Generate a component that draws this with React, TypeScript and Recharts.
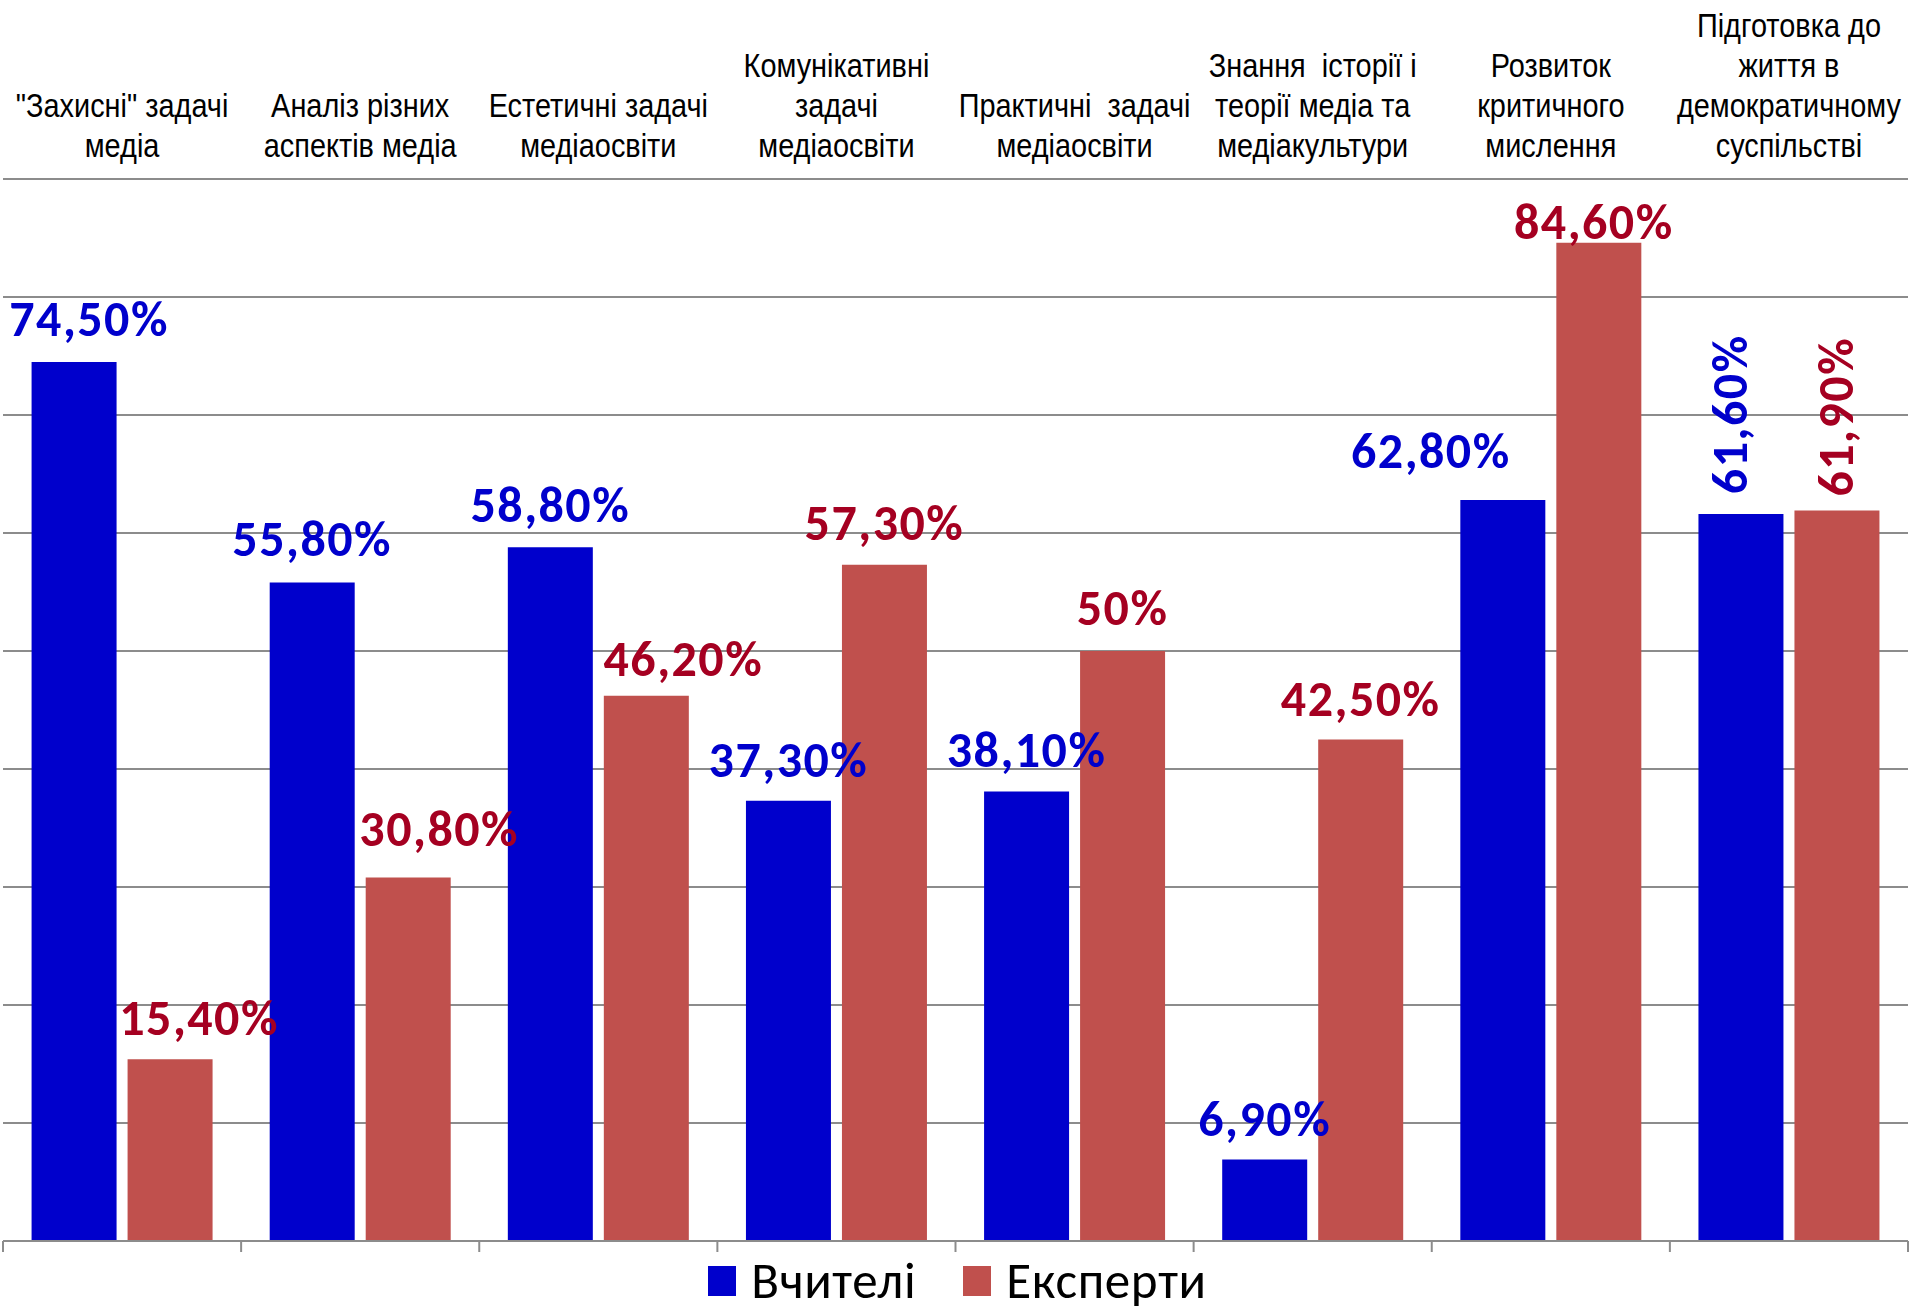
import React from 'react';
import { BarChart, Bar, XAxis, YAxis, CartesianGrid, Legend, LabelList } from 'recharts';

const categories = [
  '"Захисні" задачі\nмедіа',
  'Аналіз різних\nаспектів медіа',
  'Естетичні задачі\nмедіаосвіти',
  'Комунікативні\nзадачі\nмедіаосвіти',
  'Практичні  задачі\nмедіаосвіти',
  'Знання  історії і\nтеорії медіа та\nмедіакультури',
  'Розвиток\nкритичного\nмислення',
  'Підготовка до\nжиття в\nдемократичному\nсуспільстві',
];
const teachers = [74.5, 55.8, 58.8, 37.3, 38.1, 6.9, 62.8, 61.6];
const experts = [15.4, 30.8, 46.2, 57.3, 50, 42.5, 84.6, 61.9];
const yTicks = [0, 10, 20, 30, 40, 50, 60, 70, 80, 90];

const data = categories.map((name, i) => ({ name, teachers: teachers[i], experts: experts[i] }));

const W = 1915;
const H = 1310;
const margin = { top: 9, right: 7, bottom: 1, left: 3 };
const plotWidth = W - margin.left - margin.right;

const BLUE = '#0000CC';
const RED = '#C0504D';
const RED_TEXT = '#A50021';
const GRID = '#8C8C8C';
const LABEL_FONT = 'Carlito, Lato, "Noto Sans", sans-serif';
const CAT_FONT = '"Liberation Sans", Arial, sans-serif';

// hand nudges for the value labels, like the moved labels in the original
const teacherNudge = [
  { dx: 15, gap: 26 }, { dx: 0, gap: 27 }, { dx: 0, gap: 25 }, { dx: 0, gap: 24 },
  { dx: 0, gap: 24 }, { dx: 0, gap: 24 }, { dx: -72, gap: 32 }, { dx: 6, gap: 20 },
];
const expertNudge = [
  { dx: 29, gap: 24 }, { dx: 31, gap: 32 }, { dx: 37, gap: 20 }, { dx: 0, gap: 25 },
  { dx: 0, gap: 26 }, { dx: 0, gap: 24 }, { dx: -5, gap: 4 }, { dx: 16, gap: 14 },
];
const ROTATED = 7;

const fmt = (v: number) => (Number.isInteger(v) ? `${v}%` : `${v.toFixed(2).replace('.', ',')}%`);

const makeLabel = (color: string, nudges: { dx: number; gap: number }[]) => (props: any) => {
  const vb = props.viewBox || props;
  const x = Number(vb.x ?? props.x);
  const y = Number(vb.y ?? props.y);
  const width = Number(vb.width ?? props.width);
  const index = props.index;
  const n = nudges[index] || { dx: 0, gap: 25 };
  const txt = fmt(Number(props.value));
  const common = { fill: color, fontFamily: LABEL_FONT, fontWeight: 700, fontSize: 50, letterSpacing: 1.5 };
  if (index === ROTATED) {
    const bx = x + width / 2 + n.dx;
    const by = y - n.gap;
    return (
      <text x={bx} y={by} transform={`rotate(-90 ${bx} ${by})`} textAnchor="start" {...common}>
        {txt}
      </text>
    );
  }
  return (
    <text x={x + width / 2 + n.dx} y={y - n.gap} textAnchor="middle" {...common}>
      {txt}
    </text>
  );
};

// Arial Narrow look: Liberation Sans squeezed horizontally
const TopTick = (props: any) => {
  const { x, y, payload } = props;
  const lines = String(payload.value).split('\n');
  const base = y - 22;
  return (
    <g transform={`translate(${x} 0) scale(0.85 1)`}>
      <text textAnchor="middle" fontFamily={CAT_FONT} fontSize={34} fill="#000" style={{ whiteSpace: 'pre' }}>
        {lines.map((l, i) => (
          <tspan key={i} x={0} y={base - (lines.length - 1 - i) * 40}>
            {l}
          </tspan>
        ))}
      </text>
    </g>
  );
};

const BottomTick = (props: any) => {
  const { x, y, index } = props;
  const band = plotWidth / categories.length;
  const left = x - band / 2;
  return (
    <g>
      <line x1={left} x2={left} y1={y} y2={y + 11} stroke={GRID} strokeWidth={2} />
      {index === categories.length - 1 && (
        <line x1={x + band / 2} x2={x + band / 2} y1={y} y2={y + 11} stroke={GRID} strokeWidth={2} />
      )}
    </g>
  );
};

const LegendContent = () => (
  <div style={{ display: 'flex', justifyContent: 'center', alignItems: 'center', height: 56, gap: 47 }}>
    {[
      { name: 'Вчителі', color: BLUE },
      { name: 'Експерти', color: RED },
    ].map((it) => (
      <div key={it.name} style={{ display: 'flex', alignItems: 'center' }}>
        <div style={{ width: 28, height: 30, background: it.color, marginRight: 15 }} />
        <span style={{ fontFamily: LABEL_FONT, fontSize: 51, letterSpacing: 0.6, color: '#000', lineHeight: '56px' }}>
          {it.name}
        </span>
      </div>
    ))}
  </div>
);

export default function App() {
  return (
    <div style={{ position: 'absolute', left: 0, top: 0, width: W, height: H, background: '#fff' }}>
      <BarChart width={W} height={H} data={data} margin={margin} barCategoryGap="12%" barGap={11}>
        <CartesianGrid vertical={false} stroke={GRID} strokeWidth={2} />
        <YAxis hide domain={[0, 90]} ticks={yTicks} />
        <XAxis
          xAxisId="top"
          orientation="top"
          dataKey="name"
          height={170}
          interval={0}
          tickSize={0}
          tickMargin={0}
          tickLine={false}
          axisLine={{ stroke: GRID, strokeWidth: 2 }}
          tick={<TopTick />}
        />
        <XAxis
          xAxisId="bottom"
          orientation="bottom"
          dataKey="name"
          height={12}
          interval={0}
          tickSize={0}
          tickMargin={0}
          tickLine={false}
          axisLine={{ stroke: GRID, strokeWidth: 2 }}
          tick={<BottomTick />}
        />
        <Legend verticalAlign="bottom" wrapperStyle={{ left: 0, width: W }} content={<LegendContent />} />
        <Bar xAxisId="top" dataKey="teachers" name="Вчителі" fill={BLUE} isAnimationActive={false}>
          <LabelList dataKey="teachers" content={makeLabel(BLUE, teacherNudge)} />
        </Bar>
        <Bar xAxisId="top" dataKey="experts" name="Експерти" fill={RED} isAnimationActive={false}>
          <LabelList dataKey="experts" content={makeLabel(RED_TEXT, expertNudge)} />
        </Bar>
      </BarChart>
    </div>
  );
}
